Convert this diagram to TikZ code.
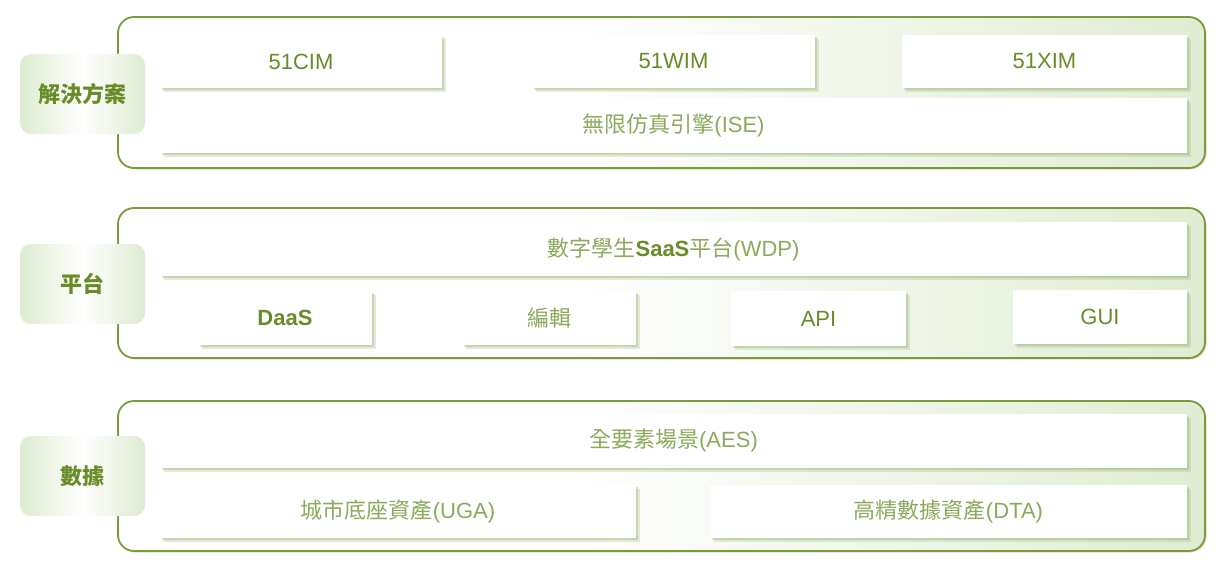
\documentclass[tikz,border=0pt]{standalone}
\usepackage{fontspec}
\setmainfont{Liberation Sans}
\newfontfamily\cjk{Noto Sans CJK TC}
\usetikzlibrary{shadows}
\definecolor{edge}{RGB}{122,155,58}
\definecolor{tdark}{RGB}{104,140,40}
\definecolor{tlight}{RGB}{140,170,92}
\definecolor{pale}{RGB}{224,236,210}
\definecolor{palelbl}{RGB}{222,235,208}
\definecolor{shad}{RGB}{150,175,110}
\pgfdeclarehorizontalshading{outergrad}{100bp}{color(0bp)=(white); color(25bp)=(white); color(46bp)=(white); color(75bp)=(pale); color(100bp)=(pale)}
\begin{document}
\begin{tikzpicture}[x=1pt,y=-1pt,
  outerbox/.style={draw=edge, line width=1.8pt, rounded corners=16pt, shading=outergrad,
    minimum width=1087pt, minimum height=151pt, inner sep=0pt,
    drop shadow={shadow xshift=1.5pt, shadow yshift=-1.5pt, fill=shad, opacity=0.35}},
  lbl/.style={rounded corners=11pt, left color=palelbl, right color=palelbl, middle color=white,
    minimum width=125pt, minimum height=80pt, inner sep=0pt, text=tdark,
    font=\fontsize{22}{26}\selectfont\cjk\bfseries},
  cell/.style={fill=white, inner sep=0pt,
    drop shadow={shadow xshift=4pt, shadow yshift=-4pt, fill=shad, opacity=0.25},
    drop shadow={shadow xshift=2pt, shadow yshift=-2pt, fill=shad, opacity=0.35},
    font=\fontsize{22}{26}\selectfont},
  dk/.style={text=tdark},
  lt/.style={text=tlight}
]
\useasboundingbox (0,0) rectangle (1232,578);

% outer containers
\node[outerbox, minimum height=151pt] (solbox) at (661.5,92.5) {};
\node[outerbox, minimum height=150pt] (platbox) at (661.5,283) {};
\node[outerbox, minimum height=150pt] (databox) at (661.5,476) {};

% row 1
\node[cell, dk, minimum width=282pt, minimum height=53pt] (cim) at (301,61.5) {51CIM};
\node[cell, dk, minimum width=283pt, minimum height=53pt] (wim) at (673.5,61.5) {51WIM};
\node[cell, dk, minimum width=285pt, minimum height=53pt] (xim) at (1044.5,61.5) {51XIM};
\node[cell, lt, minimum width=1027pt, minimum height=55pt] (ise) at (673.5,125.5) {{\cjk 無限仿真引擎}(ISE)};

% row 2
\node[cell, lt, minimum width=1027pt, minimum height=54pt] (wdp) at (673.5,249) {{\cjk 數字學生}\textcolor{tdark}{\textbf{SaaS}}{\cjk 平台}(WDP)};
\node[cell, dk, minimum width=174pt, minimum height=54pt] (daas) at (285,318) {\textbf{DaaS}};
\node[cell, lt, minimum width=174pt, minimum height=54pt] (edit) at (549,318) {\cjk 編輯};
\node[cell, dk, minimum width=175pt, minimum height=55pt] (api) at (818.5,318.5) {API};
\node[cell, dk, minimum width=174pt, minimum height=54pt] (gui) at (1100,317) {GUI};

% row 3
\node[cell, lt, minimum width=1027pt, minimum height=54pt] (aes) at (673.5,441) {{\cjk 全要素場景}(AES)};
\node[cell, lt, minimum width=476pt, minimum height=53pt] (uga) at (398,511.5) {{\cjk 城市底座資產}(UGA)};
\node[cell, lt, minimum width=477pt, minimum height=53pt] (dta) at (948.5,511.5) {{\cjk 高精數據資產}(DTA)};

% labels
\node[lbl] (sol) at (82.5,94) {解決方案};
\node[lbl] (plat) at (82.5,284) {平台};
\node[lbl] (data) at (82.5,476) {數據};
\end{tikzpicture}
\end{document}
